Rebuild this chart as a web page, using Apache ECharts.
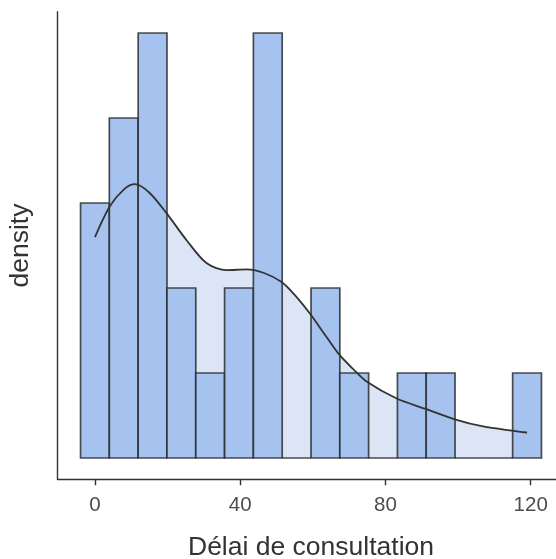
<!DOCTYPE html>
<html>
<head>
<meta charset="utf-8">
<script src="https://cdn.jsdelivr.net/npm/echarts@6/dist/echarts.min.js"></script>
<style>
  html, body { margin: 0; padding: 0; background: #fff; }
  #chart { width: 556px; height: 559px; }
</style>
</head>
<body>
<div id="chart"></div>
<script>
// Histogram of consultation delays with a kernel density estimate overlay
const nObs = 28;
const binWidth = 119 / 15;
const binCenters = [0, 7.93, 15.87, 23.8, 31.73, 39.67, 47.6, 55.53, 63.47, 71.4, 79.33, 87.27, 95.2, 103.13, 111.07, 119];
const binCounts = [3, 4, 5, 2, 1, 2, 5, 0, 2, 1, 0, 1, 1, 0, 0, 1];

// Kernel density estimate (x, density)
const kdeX = [0, 4.1, 8, 11, 15, 19.7, 25.3, 30.8, 36.3, 41.8, 46.4, 51.4, 55, 59.2, 63, 67, 71, 74.8, 83.1, 90.9, 99.1, 106.9, 115.2, 119];
const kdeY = [0.01170, 0.01333, 0.01423, 0.01450, 0.01405, 0.01297, 0.01152, 0.01031, 0.00995, 0.00999, 0.00981, 0.00932, 0.00864, 0.00765, 0.00662, 0.00554, 0.00473, 0.00405, 0.00315, 0.00261, 0.00205, 0.00167, 0.00144, 0.00135];

const xTicks = [0, 40, 80, 120];

const toDensity = c => c / (nObs * binWidth);
const histData = binCenters.map((c, i) => [c - binWidth / 2, c + binWidth / 2, toDensity(binCounts[i])]);
const kdeData = kdeX.map((x, i) => [x, kdeY[i]]);

const maxD = toDensity(Math.max(...binCounts));
const xLo = binCenters[0] - binWidth / 2, xHi = binCenters[binCenters.length - 1] + binWidth / 2;
const xPad = (xHi - xLo) * 0.05;

const font = 'Liberation Sans, Arial, sans-serif';
const chart = echarts.init(document.getElementById('chart'), null, { renderer: 'canvas' });

chart.setOption({
  animation: false,
  backgroundColor: '#ffffff',
  grid: { left: 57.5, top: 11.75, width: 507, height: 467.5, containLabel: false, outerBoundsMode: 'none' },
  xAxis: {
    type: 'value',
    min: xLo - xPad,
    max: xHi + xPad,
    name: 'Délai de consultation',
    nameLocation: 'middle',
    nameGap: 55,
    nameTextStyle: { fontFamily: font, fontSize: 26.5, color: '#333333' },
    axisLine: { show: true, onZero: false, lineStyle: { color: '#333333', width: 1.4 } },
    axisTick: { show: true, length: 6, customValues: xTicks, lineStyle: { color: '#333333', width: 1.4 } },
    axisLabel: { customValues: xTicks, margin: 16, fontFamily: font, fontSize: 20.5, color: '#4d4d4d' },
    splitLine: { show: false }
  },
  yAxis: {
    type: 'value',
    min: -maxD * 0.05,
    max: maxD * 1.05,
    name: 'density',
    nameLocation: 'middle',
    nameGap: 23,
    nameRotate: 90,
    nameTextStyle: { fontFamily: font, fontSize: 26.5, color: '#333333' },
    axisLine: { show: true, onZero: false, lineStyle: { color: '#333333', width: 1.4 } },
    axisTick: { show: false },
    axisLabel: { show: false },
    splitLine: { show: false }
  },
  series: [
    {
      name: 'kde-area',
      type: 'line',
      data: kdeData,
      smooth: 0.3,
      showSymbol: false,
      z: 1,
      lineStyle: { width: 0, opacity: 0 },
      areaStyle: { color: '#dbe5f6', opacity: 1, origin: 0 },
      silent: true
    },
    {
      name: 'histogram',
      type: 'custom',
      z: 2,
      data: histData,
      encode: { x: [0, 1], y: 2 },
      renderItem: function (params, api) {
        const p0 = api.coord([api.value(0), api.value(2)]);
        const p1 = api.coord([api.value(1), 0]);
        return {
          type: 'rect',
          shape: { x: p0[0], y: p0[1], width: p1[0] - p0[0], height: p1[1] - p0[1] },
          style: { fill: '#a6c3f0', stroke: 'rgba(35,35,35,0.8)', lineWidth: 1.7 }
        };
      }
    },
    {
      name: 'kde-line',
      type: 'line',
      data: kdeData,
      smooth: 0.3,
      showSymbol: false,
      z: 3,
      lineStyle: { color: '#333333', width: 1.8 },
      silent: true
    }
  ]
});
</script>
</body>
</html>
